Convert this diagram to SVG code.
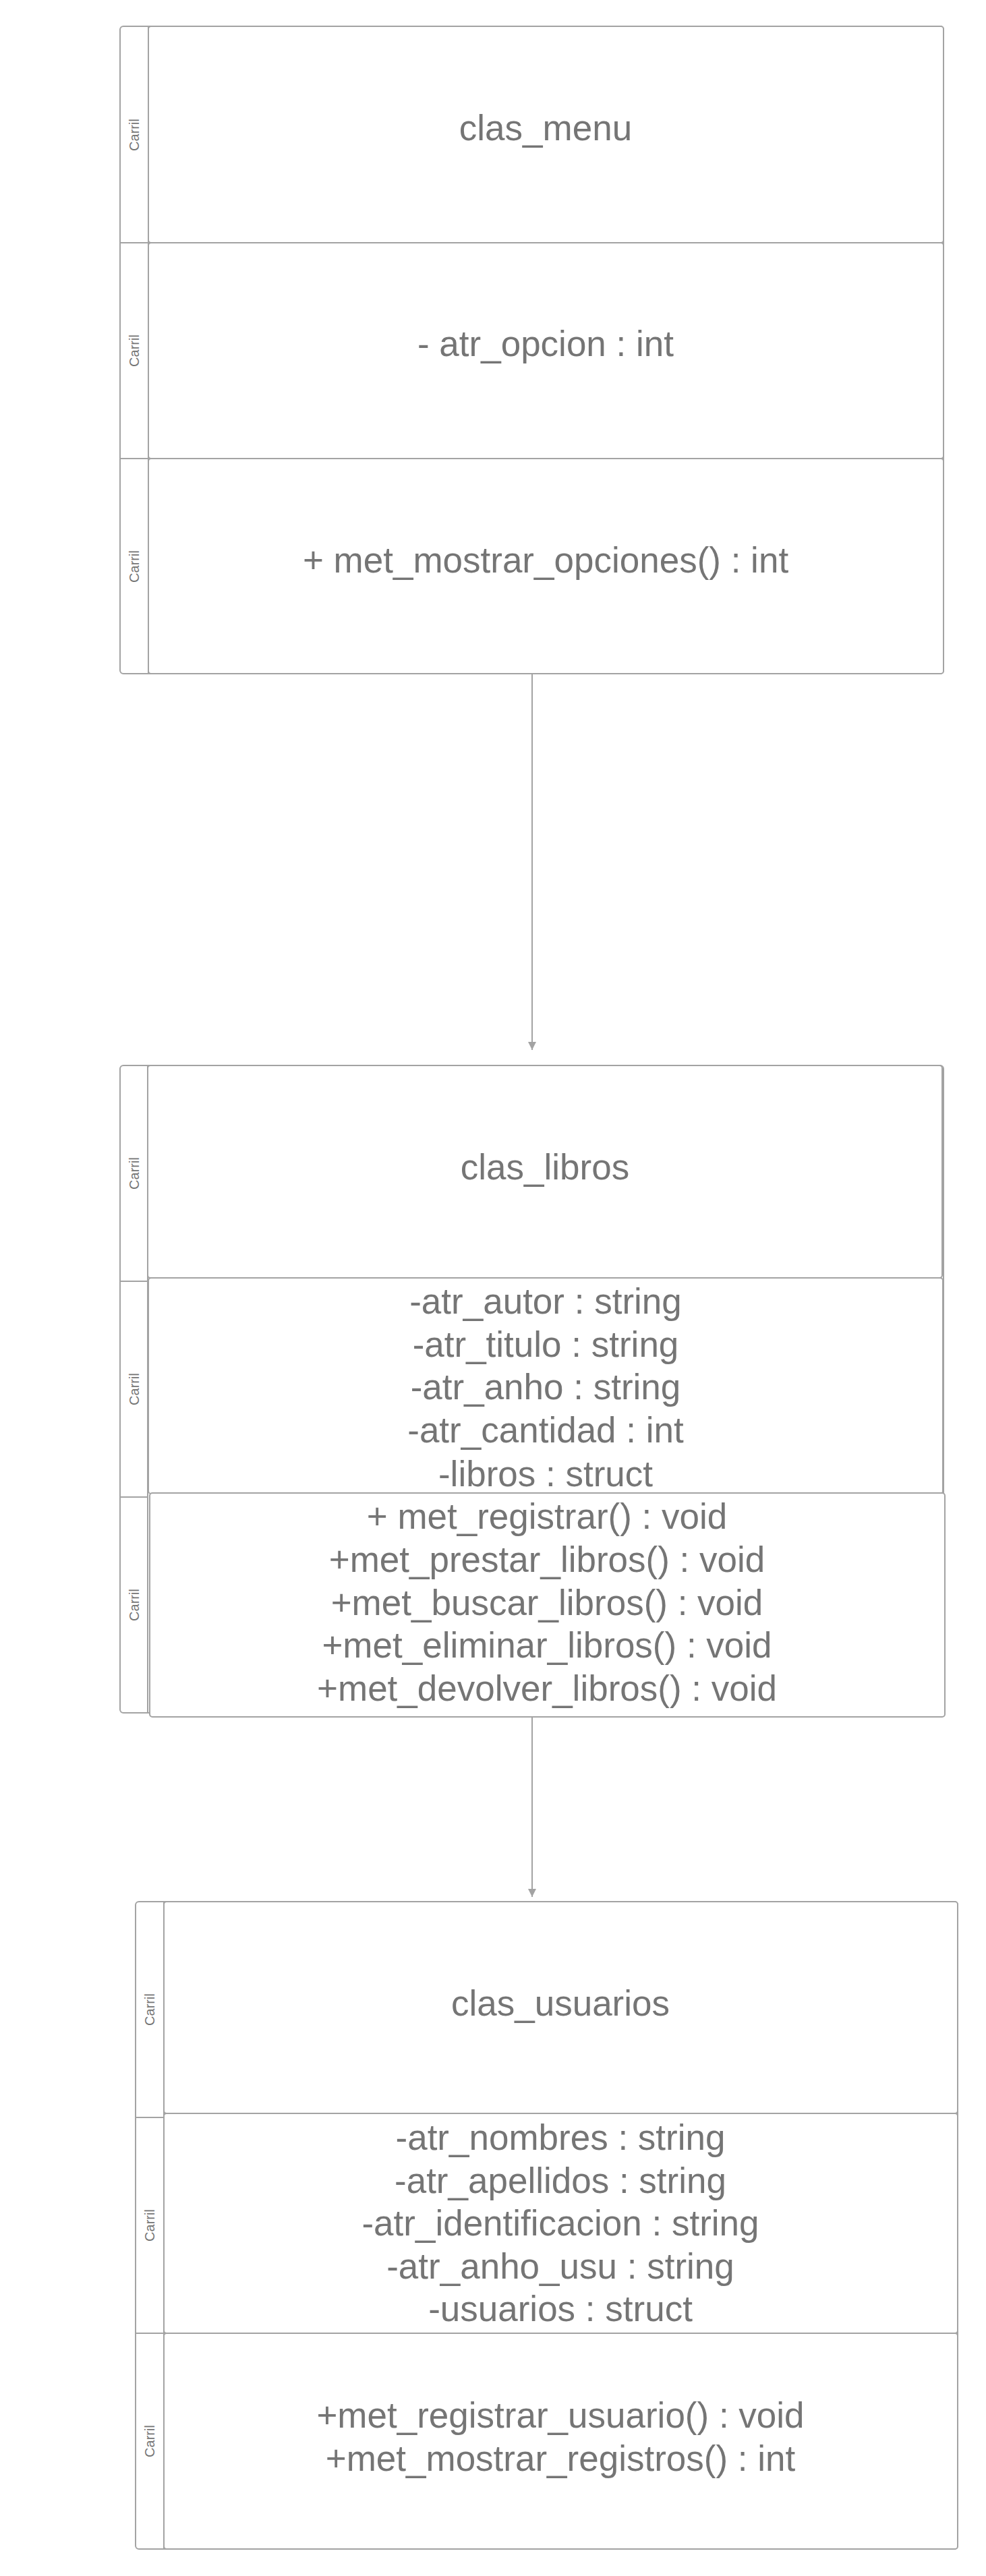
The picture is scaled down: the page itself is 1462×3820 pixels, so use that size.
<svg xmlns="http://www.w3.org/2000/svg" width="1462" height="3820" viewBox="0 0 1462 3820">
<defs>
<style>
.pool{fill:#ffffff;stroke:#a3a3a3;stroke-width:2}
.cell{fill:#ffffff;stroke:#a3a3a3;stroke-width:2}
.ln{stroke:#a3a3a3;stroke-width:2;fill:none}
.t{font-family:"Liberation Sans",Arial,sans-serif;font-size:53px;fill:#757575;text-anchor:middle}
.lane{font-family:"Liberation Sans",Arial,sans-serif;font-size:20px;fill:#757575;text-anchor:middle;dominant-baseline:central}
.edge{stroke:#a3a3a3;stroke-width:2;fill:none}
</style>
<marker id="arr" viewBox="0 0 12 14" refX="12" refY="7" markerWidth="12" markerHeight="14" markerUnits="userSpaceOnUse" orient="auto">
<path d="M0,1 L12,7 L0,13 Z" fill="#a3a3a3"/>
</marker>
</defs>
<rect width="1462" height="3820" fill="#ffffff"/>

<g id="connectors">
<line class="edge" x1="789" y1="999" x2="789" y2="1557" marker-end="url(#arr)"/>
<line class="edge" x1="789" y1="2546" x2="789" y2="2813" marker-end="url(#arr)"/>
</g>

<g id="clas_menu">
<rect class="pool" x="178" y="39" width="1221" height="960" rx="5"/>
<line class="ln" x1="220" y1="39" x2="220" y2="999"/>
<line class="ln" x1="178" y1="360" x2="220" y2="360"/>
<line class="ln" x1="178" y1="680" x2="220" y2="680"/>
<rect class="cell" x="220" y="39" width="1179" height="321" rx="4"/>
<rect class="cell" x="220" y="360" width="1179" height="320" rx="4"/>
<rect class="cell" x="220" y="680" width="1179" height="319" rx="4"/>
<text class="lane" transform="translate(199,200) rotate(-90)">Carril</text>
<text class="lane" transform="translate(199,520) rotate(-90)">Carril</text>
<text class="lane" transform="translate(199,840) rotate(-90)">Carril</text>
<text class="t" x="809" y="208">clas_menu</text>
<text class="t" x="809" y="528">- atr_opcion : int</text>
<text class="t" x="809" y="849">+ met_mostrar_opciones() : int</text>
</g>

<g id="clas_libros">
<rect class="pool" x="178" y="1580" width="1221" height="960" rx="5"/>
<line class="ln" x1="219" y1="1580" x2="219" y2="2540"/>
<line class="ln" x1="178" y1="1900" x2="219" y2="1900"/>
<line class="ln" x1="178" y1="2220" x2="219" y2="2220"/>
<rect class="cell" x="219" y="1580" width="1178" height="315" rx="4"/>
<rect class="cell" x="220" y="1895" width="1178" height="320" rx="4"/>
<rect class="cell" x="222" y="2214" width="1179" height="332" rx="4"/>
<text class="lane" transform="translate(199,1740) rotate(-90)">Carril</text>
<text class="lane" transform="translate(199,2060) rotate(-90)">Carril</text>
<text class="lane" transform="translate(199,2380) rotate(-90)">Carril</text>
<text class="t" x="808" y="1749">clas_libros</text>
<text class="t" x="809" y="1948">-atr_autor : string</text>
<text class="t" x="809" y="2012">-atr_titulo : string</text>
<text class="t" x="809" y="2075">-atr_anho : string</text>
<text class="t" x="809" y="2139">-atr_cantidad : int</text>
<text class="t" x="809" y="2204">-libros : struct</text>
<text class="t" x="811" y="2267">+ met_registrar() : void</text>
<text class="t" x="811" y="2331">+met_prestar_libros() : void</text>
<text class="t" x="811" y="2395">+met_buscar_libros() : void</text>
<text class="t" x="811" y="2458">+met_eliminar_libros() : void</text>
<text class="t" x="811" y="2522">+met_devolver_libros() : void</text>
</g>

<g id="clas_usuarios">
<rect class="pool" x="201" y="2820" width="1219" height="960" rx="5"/>
<line class="ln" x1="243" y1="2820" x2="243" y2="3780"/>
<line class="ln" x1="201" y1="3140" x2="243" y2="3140"/>
<line class="ln" x1="201" y1="3460" x2="243" y2="3460"/>
<rect class="cell" x="243" y="2820" width="1177" height="314" rx="4"/>
<rect class="cell" x="243" y="3134" width="1177" height="326" rx="4"/>
<rect class="cell" x="243" y="3460" width="1177" height="320" rx="4"/>
<text class="lane" transform="translate(222,2980) rotate(-90)">Carril</text>
<text class="lane" transform="translate(222,3300) rotate(-90)">Carril</text>
<text class="lane" transform="translate(222,3620) rotate(-90)">Carril</text>
<text class="t" x="831" y="2989">clas_usuarios</text>
<text class="t" x="831" y="3188">-atr_nombres : string</text>
<text class="t" x="831" y="3252">-atr_apellidos : string</text>
<text class="t" x="831" y="3315">-atr_identificacion : string</text>
<text class="t" x="831" y="3379">-atr_anho_usu : string</text>
<text class="t" x="831" y="3442">-usuarios : struct</text>
<text class="t" x="831" y="3600">+met_registrar_usuario() : void</text>
<text class="t" x="831" y="3664">+met_mostrar_registros() : int</text>
</g>
</svg>
